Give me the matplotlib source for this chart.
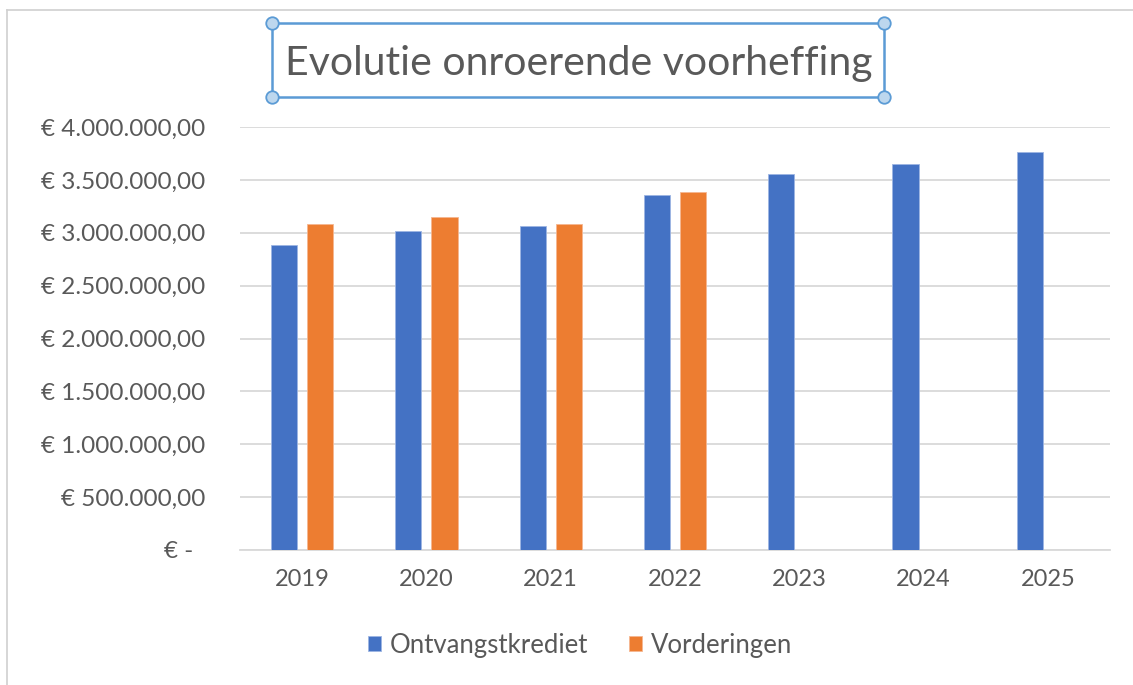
import matplotlib
matplotlib.use("Agg")
from matplotlib import pyplot as plt
from matplotlib.patches import Rectangle
from matplotlib.lines import Line2D
import numpy as np

plt.rcParams['font.family'] = ['Lato', 'DejaVu Sans']

years = ['2019', '2020', '2021', '2022', '2023', '2024', '2025']
ontvangstkrediet = [2884000, 3020000, 3064000, 3356000, 3558000, 3650000, 3760000]
vorderingen = [3086000, 3153000, 3086000, 3381000]

W, H = 1133, 685
fig = plt.figure(figsize=(W / 100, H / 100), dpi=100)
ax = fig.add_axes([240 / W, 1 - 550 / H, 870 / W, 423 / H])

blue = '#4472C4'
orange = '#ED7D31'
grey = '#595959'
gridc = '#D9D9D9'

x = np.arange(len(years))
bw = 0.21
ax.bar(x - 0.145, ontvangstkrediet, bw, color=blue, edgecolor='#9DB5E3', linewidth=0.6,
       label='Ontvangstkrediet', zorder=3)
ax.bar(x[:len(vorderingen)] + 0.145, vorderingen, bw, color=orange, edgecolor='#F5B790',
       linewidth=0.6, label='Vorderingen', zorder=3)

ax.set_xlim(-0.5, len(years) - 0.5)
ax.set_ylim(0, 4000000)
ax.set_yticks(np.arange(0, 4000001, 500000))
ax.set_xticks(x)
ax.set_xticklabels(years)


def euro(v, pos=None):
    if v == 0:
        return '€ -  '
    s = f"{v:,.2f}".replace(',', 'X').replace('.', ',').replace('X', '.')
    return '€ ' + s


ax.yaxis.set_major_formatter(matplotlib.ticker.FuncFormatter(euro))
ax.tick_params(axis='y', length=0, pad=25, labelsize=17.5, labelcolor=grey)
ax.tick_params(axis='x', length=0, pad=14, labelsize=17, labelcolor=grey)
ax.grid(axis='y', color=gridc, linewidth=1.3, zorder=0)
for s in ['top', 'right', 'left']:
    ax.spines[s].set_visible(False)
ax.spines['bottom'].set_color(gridc)
ax.spines['bottom'].set_linewidth(1.3)

fig.legend(loc='center', bbox_to_anchor=(580 / W, 1 - 645 / H), ncol=2, frameon=False,
           fontsize=18.5, labelcolor=grey, handlelength=0.5, handleheight=0.5,
           handletextpad=0.35, columnspacing=1.6)

# title with selection frame
fig.text(579 / W, 1 - 63 / H, 'Evolutie onroerende voorheffing', ha='center', va='center',
         fontsize=29.5, color=grey)
sel = '#5B9BD5'
fig.add_artist(Rectangle((272 / W, 1 - 97 / H), 612 / W, 74 / H, transform=fig.transFigure,
                         fill=False, edgecolor=sel, linewidth=1.8))
for cx, cy in [(272, 23), (884, 23), (272, 97), (884, 97)]:
    fig.add_artist(Line2D([cx / W], [1 - cy / H], transform=fig.transFigure, marker='o',
                          markersize=9, markerfacecolor='#BDD7EE', markeredgecolor=sel,
                          markeredgewidth=1.3, linestyle='none'))

# outer chart border (top and left only visible)
fig.add_artist(Line2D([7 / W, 1], [1 - 10 / H, 1 - 10 / H], transform=fig.transFigure,
                      color='#D0D0D0', linewidth=1.2))
fig.add_artist(Line2D([7 / W, 7 / W], [0, 1 - 10 / H], transform=fig.transFigure,
                      color='#D0D0D0', linewidth=1.2))

fig.savefig('out.png', dpi=100)
